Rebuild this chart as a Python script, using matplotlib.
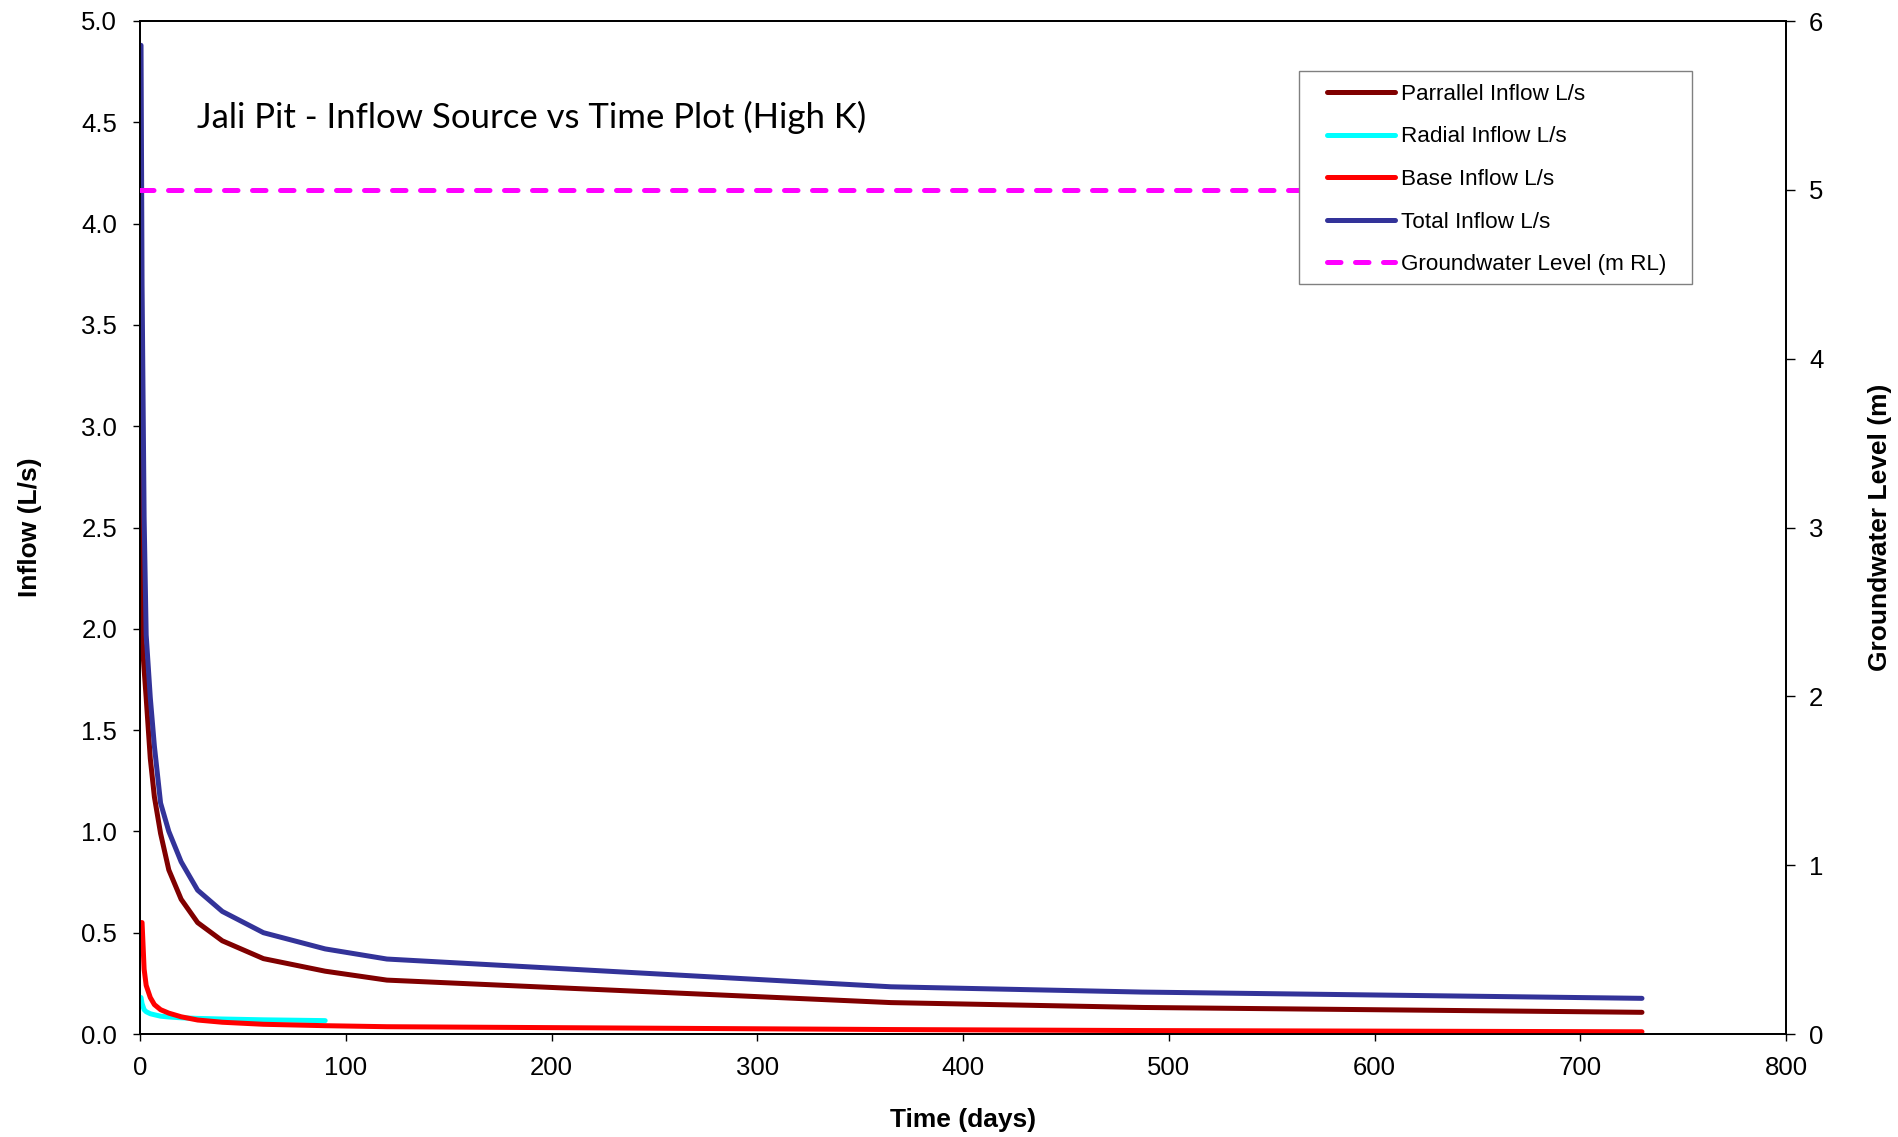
import matplotlib
matplotlib.use("Agg")
import matplotlib.pyplot as plt
from matplotlib.patches import Rectangle

# ---- data ----
t_main = [0.5, 1, 2, 3, 5, 7, 10, 14, 20, 28, 40, 60, 90, 120, 365, 487, 730]
parallel = [3.6, 1.95, 1.80, 1.66, 1.36, 1.17, 0.99, 0.81, 0.665, 0.55, 0.46, 0.372, 0.31, 0.266, 0.155, 0.131, 0.107]
total = [4.88, 3.70, 2.55, 1.97, 1.66, 1.42, 1.14, 1.00, 0.85, 0.71, 0.605, 0.50, 0.42, 0.37, 0.233, 0.207, 0.176]
base = [0.55, 0.55, 0.32, 0.24, 0.18, 0.145, 0.12, 0.103, 0.085, 0.069, 0.058, 0.048, 0.041, 0.036, 0.022, 0.017, 0.011]
t_radial = [0.5, 1, 2, 3, 5, 7, 10, 14, 20, 28, 40, 60, 90]
radial = [0.18, 0.15, 0.12, 0.11, 0.10, 0.095, 0.088, 0.084, 0.080, 0.077, 0.074, 0.070, 0.066]
t_gw = [0, 730]
gw_level = [5, 5]

labels = ["Parrallel Inflow L/s", "Radial Inflow L/s", "Base Inflow L/s",
          "Total Inflow L/s", "Groundwater Level (m RL)"]
title = "Jali Pit - Inflow Source vs Time Plot (High K)"

plt.rcParams['font.family'] = ['Liberation Sans', 'DejaVu Sans']

fig = plt.figure(figsize=(18.98, 11.37), dpi=100)
ax = fig.add_axes([140/1898, 1 - 1034/1137, 1646/1898, 1013/1137])
ax2 = ax.twinx()

lw = 3.6
l1, = ax.plot(t_main, parallel, color="#800000", lw=lw, solid_capstyle='round', zorder=3)
l2, = ax.plot(t_radial, radial, color="#00FFFF", lw=lw, solid_capstyle='round', zorder=3)
l3, = ax.plot(t_main, base, color="#FF0000", lw=lw, solid_capstyle='round', zorder=3)
l4, = ax.plot(t_main, total, color="#333399", lw=lw, solid_capstyle='round', zorder=4)
l5, = ax2.plot(t_gw, gw_level, color="#FF00FF", lw=lw, ls=(0, (2.7, 2.9)), dash_capstyle='round', zorder=3)

ax.set_xlim(0, 800)
ax.set_ylim(0, 5)
ax2.set_ylim(0, 6)
ax.set_xticks(range(0, 801, 100))
ax.set_yticks([i * 0.5 for i in range(11)])
ax.set_yticklabels([f"{i*0.5:.1f}" for i in range(11)])
ax2.set_yticks(range(0, 7))

for a in (ax, ax2):
    for s in a.spines.values():
        s.set_linewidth(1.3)
        s.set_color("black")

ax.tick_params(axis='y', direction='out', length=5, width=1, labelsize=18.5, pad=11.5)
ax.tick_params(axis='x', direction='out', length=5, width=1, labelsize=18.5, pad=10.5)
ax2.tick_params(axis='y', direction='out', length=6.5, width=1, labelsize=18.5, pad=10)

ax.set_xlabel("Time (days)", fontsize=19, fontweight='bold', labelpad=20.5)
ax.set_ylabel("Inflow (L/s)", fontsize=19, fontweight='bold', labelpad=28.5)
ax2.set_ylabel("Groundwater Level (m)", fontsize=19, fontweight='bold', labelpad=32, rotation=90)

ax.text(0.0346, 0.905, title, transform=ax.transAxes, fontsize=25,
        family=['Lato', 'DejaVu Sans'], va='center', ha='left')

# legend box
ax2.add_patch(Rectangle((0.704, 0.740), 0.943 - 0.704, 0.951 - 0.740, transform=ax.transAxes,
                        facecolor='white', edgecolor='#808080', lw=1.0, zorder=10))
leg = ax2.legend([l1, l2, l3, l4, l5], labels, loc='upper left',
                 bbox_to_anchor=(0.721, 0.938), bbox_transform=ax.transAxes,
                 frameon=False, fontsize=16.2, handlelength=3.05, handletextpad=0.27,
                 labelspacing=0.96, borderpad=0, borderaxespad=0)
leg.set_zorder(11)

fig.savefig("out.png", dpi=100)
